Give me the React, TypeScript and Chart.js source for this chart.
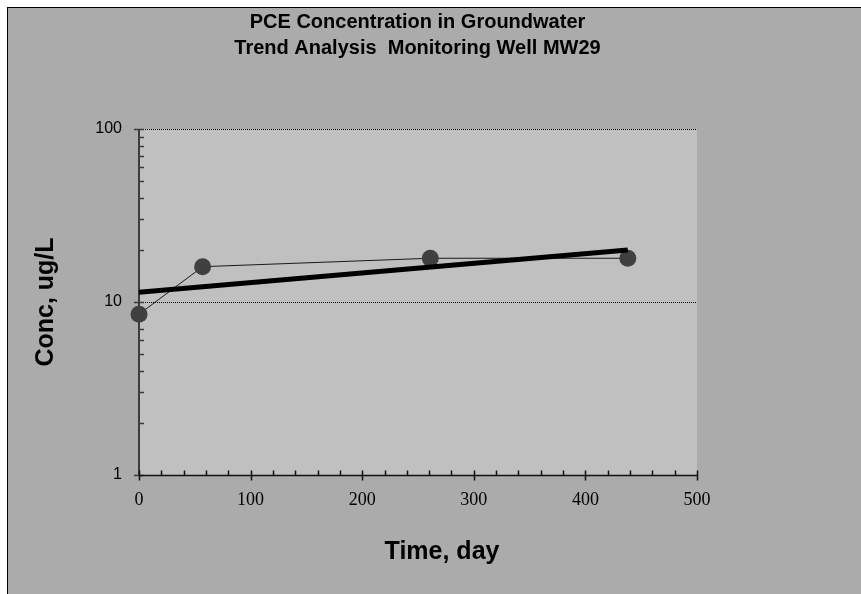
import React, { useEffect, useRef } from "react";
import { Chart, registerables } from "chart.js";

Chart.register(...registerables);

const chartTitle = ["PCE Concentration in Groundwater", "Trend Analysis  Monitoring Well MW29"];
const xTitle = "Time, day";
const yTitle = "Conc, ug/L";

const days = [0, 57, 261, 438];
const concs = [8.5, 16.0, 17.9, 17.9];
const trendDays = [0, 438];
const trendConcs = [11.4, 20.0];

const xTicks = [0, 100, 200, 300, 400, 500];
const yTicks = [1, 10, 100];
const yMinorTicks = [2, 3, 4, 5, 6, 7, 8, 9, 20, 30, 40, 50, 60, 70, 80, 90];
const xMinorStep = 20;

const W = 853;
const H = 586;
const SANS = "'Liberation Sans', Arial, sans-serif";

const decor = {
  id: "decor",
  beforeDraw(chart: any) {
    const { ctx, chartArea: a } = chart;
    ctx.save();
    ctx.fillStyle = "#c0c0c0";
    ctx.fillRect(a.left, a.top, a.right - a.left, a.bottom - a.top);
    ctx.restore();
  },
  beforeDatasetsDraw(chart: any) {
    const { ctx, chartArea: a, scales } = chart;
    const xs = scales.x;
    const ys = scales.y;
    ctx.save();
    // dotted gridlines
    ctx.strokeStyle = "#000";
    ctx.lineWidth = 1;
    ctx.setLineDash([1, 1]);
    for (const v of yTicks) {
      if (v === yTicks[0]) continue;
      const y = Math.round(ys.getPixelForValue(v)) + 0.5;
      ctx.beginPath();
      ctx.moveTo(a.left, y);
      ctx.lineTo(a.right, y);
      ctx.stroke();
    }
    ctx.setLineDash([]);
    // y axis line
    ctx.strokeStyle = "#3c3c3c";
    ctx.lineWidth = 2;
    ctx.beginPath();
    ctx.moveTo(a.left, a.top);
    ctx.lineTo(a.left, a.bottom);
    ctx.stroke();
    // y ticks
    ctx.lineWidth = 1.5;
    for (const v of yTicks) {
      const y = Math.round(ys.getPixelForValue(v)) + 0.5;
      ctx.beginPath();
      ctx.moveTo(a.left - 5, y);
      ctx.lineTo(a.left + 5, y);
      ctx.stroke();
    }
    for (const v of yMinorTicks) {
      const y = Math.round(ys.getPixelForValue(v)) + 0.5;
      ctx.beginPath();
      ctx.moveTo(a.left, y);
      ctx.lineTo(a.left + 5, y);
      ctx.stroke();
    }
    // x axis line
    ctx.strokeStyle = "#111";
    ctx.lineWidth = 1.5;
    const yb = Math.round(a.bottom) + 0.5;
    ctx.beginPath();
    ctx.moveTo(a.left, yb);
    ctx.lineTo(a.right, yb);
    ctx.stroke();
    for (let v = xTicks[0]; v <= xTicks[xTicks.length - 1]; v += xMinorStep) {
      const x = Math.round(xs.getPixelForValue(v)) + 0.5;
      const major = xTicks.includes(v);
      ctx.beginPath();
      ctx.moveTo(x, yb - 5);
      ctx.lineTo(x, major ? yb + 5 : yb);
      ctx.stroke();
    }
    ctx.restore();
  },
  afterDraw(chart: any) {
    const { ctx, chartArea: a } = chart;
    ctx.save();
    ctx.fillStyle = "#000";
    ctx.font = `bold 25px ${SANS}`;
    ctx.textAlign = "center";
    ctx.textBaseline = "middle";
    ctx.fillText(xTitle, (a.left + a.right) / 2 + 24, a.bottom + 77);
    ctx.restore();
  },
};

export default function App() {
  const ref = useRef<HTMLCanvasElement | null>(null);
  useEffect(() => {
    if (!ref.current) return;
    const chart = new Chart(ref.current, {
      type: "scatter",
      data: {
        datasets: [
          {
            label: "Trend",
            data: trendDays.map((d, i) => ({ x: d, y: trendConcs[i] })),
            showLine: true,
            borderColor: "#000",
            borderWidth: 5,
            pointRadius: 0,
            order: 0,
            clip: false as any,
          },
          {
            label: "PCE",
            data: days.map((d, i) => ({ x: d, y: concs[i] })),
            showLine: true,
            borderColor: "#1a1a1a",
            borderWidth: 1,
            pointRadius: 8.5,
            pointBackgroundColor: "#404040",
            pointBorderColor: "#404040",
            pointBorderWidth: 0,
            order: 1,
            clip: false as any,
          },
        ],
      },
      options: {
        responsive: false,
        animation: false,
        devicePixelRatio: 1,
        layout: { padding: { left: 0, right: 34, top: 0, bottom: 0 } },
        plugins: {
          legend: { display: false },
          tooltip: { enabled: false },
          title: {
            display: true,
            text: chartTitle,
            color: "#000",
            font: { family: SANS, size: 20, weight: "bold", lineHeight: 1.3 },
            padding: { top: 1, bottom: 68 },
          },
        },
        scales: {
          x: {
            type: "linear",
            min: 0,
            max: 500,
            afterBuildTicks: (s: any) => {
              s.ticks = xTicks.map((v) => ({ value: v }));
            },
            afterFit: (s: any) => {
              s.height = H - 467;
            },
            grid: { display: false, drawTicks: false },
            border: { display: false },
            ticks: {
              color: "#000",
              padding: 14,
              maxRotation: 0,
              font: { family: "'Liberation Serif', 'Times New Roman', serif", size: 18 },
            },
            title: { display: false, text: xTitle },
          },
          y: {
            type: "logarithmic",
            min: 1,
            max: 100,
            afterBuildTicks: (s: any) => {
              s.ticks = yTicks.map((v) => ({ value: v }));
            },
            afterFit: (s: any) => {
              s.width = 131;
            },
            grid: { display: false, drawTicks: false },
            border: { display: false },
            ticks: {
              color: "#000",
              padding: 17,
              font: { family: SANS, size: 16 },
              callback: (v: any) => String(v),
            },
            title: {
              display: true,
              text: yTitle,
              color: "#000",
              font: { family: SANS, size: 25, weight: "bold", lineHeight: 1.2 },
              padding: { top: 23, bottom: 0 },
            },
          },
          yRight: {
            type: "linear",
            position: "right",
            display: true,
            min: 0,
            max: 1,
            afterFit: (s: any) => {
              s.width = 130;
            },
            grid: { display: false, drawTicks: false },
            border: { display: false },
            ticks: { display: false },
          },
        },
      },
      plugins: [decor],
    });
    return () => chart.destroy();
  }, []);

  return (
    <div
      style={{
        position: "absolute",
        left: 7,
        top: 7,
        width: W + 1,
        height: H + 1,
        boxSizing: "border-box",
        borderLeft: "1px solid #000",
        borderTop: "1px solid #000",
        background: "#ababab",
      }}
    >
      <canvas ref={ref} width={W} height={H} style={{ display: "block", width: W, height: H }} />
    </div>
  );
}
